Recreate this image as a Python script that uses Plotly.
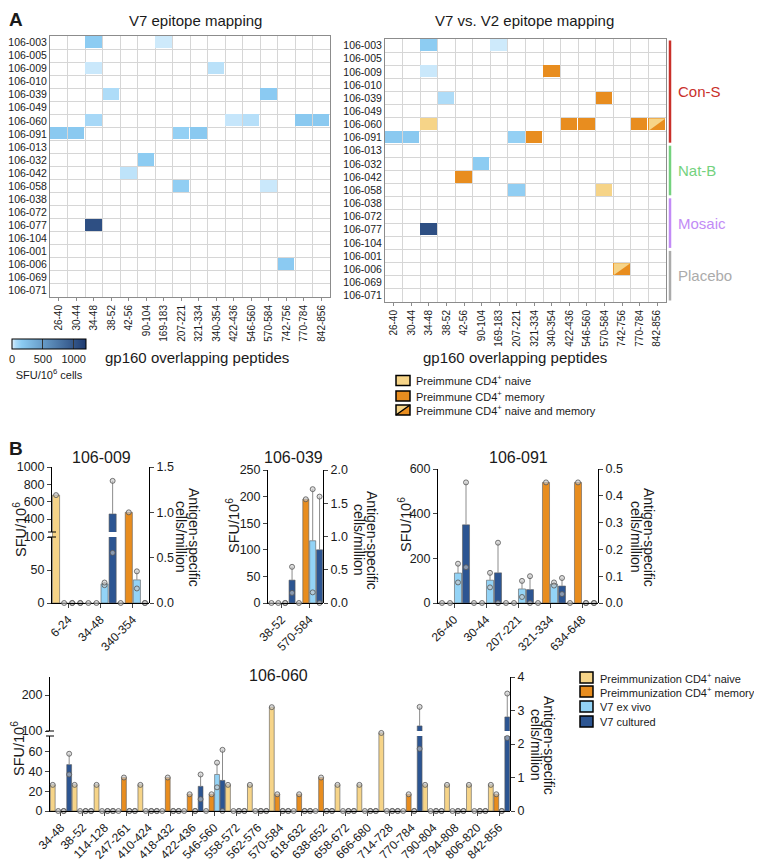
import plotly.graph_objects as go

W, H = 762, 863
OX, OY = 8, 8  # page body margin in the browser
FONT = "Arial, Liberation Sans, sans-serif"


def X(px):
    return (px - OX) / W


def Y(py):
    return 1 - (py - OY) / H


# ---------------- A: epitope maps ----------------
donors = ["106-003", "106-005", "106-009", "106-010", "106-039", "106-049", "106-060", "106-091",
          "106-013", "106-032", "106-042", "106-058", "106-038", "106-072", "106-077", "106-104",
          "106-001", "106-006", "106-069", "106-071"]
peptides = ["26-40", "30-44", "34-48", "38-52", "42-56", "90-104", "169-183", "207-221",
            "321-334", "340-354", "422-436", "546-560", "570-584", "742-756", "770-784", "842-856"]

# V7 responses, SFU/10^6 cells
v7_donor = ["106-003", "106-003", "106-009", "106-009", "106-039", "106-039", "106-060", "106-060",
            "106-060", "106-060", "106-060", "106-091", "106-091", "106-091", "106-091", "106-032",
            "106-042", "106-058", "106-058", "106-077", "106-006"]
v7_peptide = ["34-48", "169-183", "34-48", "340-354", "38-52", "570-584", "34-48", "422-436",
              "546-560", "770-784", "842-856", "26-40", "30-44", "207-221", "321-334", "90-104",
              "42-56", "207-221", "570-584", "34-48", "742-756"]
v7_sfu = [150, 20, 25, 45, 60, 160, 80, 30, 50, 170, 170, 170, 170, 130, 170, 150, 40, 140, 25, 1050, 160]

# preimmune CD4+ responses: 1 naive, 2 memory, 3 naive and memory
pre_donor = ["106-009", "106-039", "106-060", "106-060", "106-060", "106-060", "106-060",
             "106-091", "106-042", "106-058", "106-006"]
pre_peptide = ["340-354", "570-584", "34-48", "422-436", "546-560", "770-784", "842-856",
               "321-334", "42-56", "570-584", "742-756"]
pre_type = [2, 2, 1, 2, 2, 2, 3, 2, 2, 1, 3]

vaccine_groups = ["Con-S", "Nat-B", "Mosaic", "Placebo"]
group_size = [8, 4, 4, 4]
group_colors = ["#c9302a", "#74d27e", "#c28bf6", "#ababab"]

# ---------------- B: per-donor bars ----------------
p009_pep = ["6-24", "34-48", "340-354"]
p009_naive = [1.19, 0, 0]
p009_memory = [0, 0, 1.0]
p009_exvivo = [0, 29, 35]
p009_exvivo_pts = [[0, 0], [27, 31], [48, 22]]
p009_cult = [0, 458, 0]
p009_cult_pts = [[0, 0], [840, 76], [0, 0]]

p039_pep = ["38-52", "570-584"]
p039_naive = [0, 0]
p039_memory = [0, 1.56]
p039_exvivo = [0, 117]
p039_exvivo_pts = [[0, 0], [214, 20]]
p039_cult = [43, 100]
p039_cult_pts = [[68, 19], [200, 0]]

p091_pep = ["26-40", "30-44", "207-221", "321-334", "634-648"]
p091_naive = [0, 0, 0, 0, 0]
p091_memory = [0, 0, 0, 0.45, 0.45]
p091_exvivo = [134, 102, 63, 85, 0]
p091_exvivo_pts = [[176, 92], [135, 70], [99, 27], [92, 78], [0, 0]]
p091_cult = [350, 135, 60, 76, 0]
p091_cult_pts = [[540, 160], [270, 0], [120, 0], [112, 40], [0, 0]]

p060_pep = ["34-48", "38-52", "114-128", "247-261", "410-424", "418-432", "422-436", "546-560",
            "558-572", "562-576", "570-584", "618-632", "638-652", "658-672", "666-680", "714-728",
            "770-784", "790-804", "794-808", "806-820", "842-856"]
p060_naive = [0.78, 0.78, 0.78, 0, 0.78, 0, 0, 0, 0.78, 0.78, 3.1, 0, 0, 0.78, 0.78, 2.33,
              0, 0.78, 0.78, 0.78, 0.78]
p060_memory = [0, 0, 0, 1.0, 0, 1.0, 0.5, 0.5, 0, 0, 0.5, 0.5, 1.0, 0, 0, 0,
               0.5, 0, 0, 0, 0.5]
p060_exvivo = [0, 0, 0, 0, 0, 0, 0, 37, 0, 0, 0, 0, 0, 0, 0, 0, 0, 0, 0, 0, 0]
p060_exvivo_pts = [[0, 0]] * 7 + [[49, 24]] + [[0, 0]] * 13
p060_cult = [47, 0, 0, 0, 0, 0, 25, 31, 0, 0, 0, 0, 0, 0, 0, 0, 114, 0, 0, 0, 139]
p060_cult_pts = ([[58, 37]] + [[0, 0]] * 5 + [[37, 12], [62, 0]] + [[0, 0]] * 8
                 + [[167, 63]] + [[0, 0]] * 3 + [[204, 74]])

NAIVE, MEMORY, EXVIVO, CULT = "#f6d488", "#e88d1f", "#93d3f6", "#2c5592"
DOT = dict(symbol="circle", size=5, color="rgba(200,200,200,0.6)", line=dict(color="#555", width=0.8))

fig = go.Figure()

# ---------- heatmaps ----------
z_v7 = [[None] * len(peptides) for _ in donors]
for d, p, v in zip(v7_donor, v7_peptide, v7_sfu):
    z_v7[donors.index(d)][peptides.index(p)] = v
z_pre = [[None] * len(peptides) for _ in donors]
for d, p, t in zip(pre_donor, pre_peptide, pre_type):
    z_pre[donors.index(d)][peptides.index(p)] = t
z_v7_right = [[None if z_pre[r][c] is not None else z_v7[r][c] for c in range(len(peptides))]
              for r in range(len(donors))]

blue_scale = [[0, "#dff1fc"], [0.02, "#cbe8fb"], [0.05, "#aedcf8"], [0.13, "#8bcbf2"], [1, "#1e3a70"]]
pre_scale = [[0, NAIVE], [0.25, NAIVE], [0.25, MEMORY], [1, MEMORY]]
hm = dict(x=list(range(len(peptides))), y=list(range(len(donors))), xgap=1, ygap=1, hoverinfo="skip")

fig.add_trace(go.Heatmap(
    z=z_v7, colorscale=blue_scale, zmin=0, zmax=1200, xaxis="x", yaxis="y",
    colorbar=dict(orientation="h", x=X(12), xanchor="left", y=Y(339), yanchor="top",
                  len=74, lenmode="pixels", thickness=10, xpad=0, ypad=0,
                  tickvals=[0, 500, 1000], ticks="inside", ticklen=10, tickcolor="#333",
                  outlinecolor="black", outlinewidth=1, tickfont=dict(size=11),
                  title=dict(text="SFU/10<sup>6</sup> cells", side="bottom", font=dict(size=11))),
    **hm))
fig.add_trace(go.Heatmap(z=z_v7_right, colorscale=blue_scale, zmin=0, zmax=1200, showscale=False,
                         xaxis="x2", yaxis="y2", **hm))
fig.add_trace(go.Heatmap(z=z_pre, colorscale=pre_scale, zmin=1, zmax=3, showscale=False,
                         xaxis="x2", yaxis="y2", **hm))
for d, p, t in zip(pre_donor, pre_peptide, pre_type):
    if t == 3:
        r, c = donors.index(d), peptides.index(p)
        fig.add_trace(go.Scatter(x=[c - 0.47, c + 0.47, c - 0.47, c - 0.47],
                                 y=[r - 0.45, r - 0.45, r + 0.45, r - 0.45],
                                 fill="toself", fillcolor=NAIVE, mode="lines", line=dict(width=0),
                                 xaxis="x2", yaxis="y2", showlegend=False, hoverinfo="skip"))


# ---------- bar panels ----------
def panel(xa, ylo, yhi, yr, naive, memory, exvivo, exvivo_pts, cult, cult_pts, lo_max=None):
    idx = range(len(naive))
    for vals, color, off in ((naive, NAIVE, -0.375), (memory, MEMORY, -0.125)):
        xs = [i + off for i in idx]
        fig.add_trace(go.Bar(x=xs, y=vals, width=0.22, xaxis=xa, yaxis=yr, showlegend=False,
                             marker=dict(color=color, line=dict(color="#5a5a5a", width=0.6))))
        fig.add_trace(go.Scatter(x=xs, y=vals, mode="markers", marker=DOT, cliponaxis=False,
                                 xaxis=xa, yaxis=yr, showlegend=False))
    for vals, pts, color, off in ((exvivo, exvivo_pts, EXVIVO, 0.125), (cult, cult_pts, CULT, 0.375)):
        xs = [i + off for i in idx]
        err = [max(0, max(p) - v) for v, p in zip(vals, pts)]
        axes = [(ylo, lambda v: lo_max is None or v <= lo_max)]
        if yhi:
            axes.append((yhi, lambda v: v > lo_max))
        for ya, keep in axes:
            fig.add_trace(go.Bar(
                x=xs, y=vals, width=0.22, xaxis=xa, yaxis=ya, showlegend=False,
                marker=dict(color=color, line=dict(color="#5a5a5a", width=0.6)),
                error_y=dict(type="data", symmetric=False,
                             array=[e if keep(v) else 0 for e, v in zip(err, vals)],
                             arrayminus=[0] * len(vals), width=0, color="#8c8c8c", thickness=1)))
            dx, dy = [], []
            for x, p in zip(xs, pts):
                for val in p:
                    if keep(val):
                        dx.append(x)
                        dy.append(val)
            fig.add_trace(go.Scatter(x=dx, y=dy, mode="markers", marker=DOT, cliponaxis=False,
                                     xaxis=xa, yaxis=ya, showlegend=False))


panel("x3", "y3", "y4", "y5", p009_naive, p009_memory, p009_exvivo, p009_exvivo_pts,
      p009_cult, p009_cult_pts, lo_max=100)
panel("x4", "y6", None, "y7", p039_naive, p039_memory, p039_exvivo, p039_exvivo_pts,
      p039_cult, p039_cult_pts)
panel("x5", "y8", None, "y9", p091_naive, p091_memory, p091_exvivo, p091_exvivo_pts,
      p091_cult, p091_cult_pts)
panel("x6", "y10", "y11", "y12", p060_naive, p060_memory, p060_exvivo, p060_exvivo_pts,
      p060_cult, p060_cult_pts, lo_max=76)

# ---------- axes ----------
def hm_x(domain, anchor):
    return dict(domain=domain, anchor=anchor, range=[-0.5, len(peptides) - 0.5],
                tickvals=list(range(len(peptides))), ticktext=peptides, tickangle=-90,
                tickfont=dict(size=10), showline=True, mirror=True, linecolor="#8c8c8c",
                ticks="outside", ticklen=3, tickcolor="#8c8c8c", showgrid=False, zeroline=False,
                automargin=False,
                minor=dict(tickmode="linear", tick0=0.5, dtick=1, showgrid=True,
                           gridcolor="#d6d6d6", gridwidth=1))


def hm_y(domain, anchor):
    return dict(domain=domain, anchor=anchor, range=[len(donors) - 0.5, -0.5],
                tickvals=list(range(len(donors))), ticktext=donors, tickfont=dict(size=10.5),
                showline=True, mirror=True, linecolor="#8c8c8c", ticks="",
                showgrid=False, zeroline=False, automargin=False,
                minor=dict(tickmode="linear", tick0=0.5, dtick=1, showgrid=True,
                           gridcolor="#d6d6d6", gridwidth=1))


def bx(domain, peps, anchor):
    return dict(domain=domain, anchor=anchor, range=[-0.5, len(peps) - 0.5],
                tickvals=list(range(len(peps))), ticktext=peps, tickangle=-45,
                tickfont=dict(size=12), showline=True, linecolor="black", ticks="outside",
                ticklen=4, showgrid=False, zeroline=False, automargin=False)


def by(domain, rng, tickvals, anchor, side="left", fmt=None):
    d = dict(domain=domain, anchor=anchor, range=rng, tickvals=tickvals, side=side,
             tickfont=dict(size=12.5), showline=True, linecolor="black", ticks="outside",
             ticklen=4, showgrid=False, zeroline=False, automargin=False)
    if fmt:
        d["tickformat"] = fmt
    return d


fig.update_layout(
    xaxis=hm_x([X(50), X(330)], "y"), yaxis=hm_y([Y(297), Y(36)], "x"),
    xaxis2=hm_x([X(385), X(666)], "y2"), yaxis2=hm_y([Y(302), Y(39)], "x2"),
    xaxis3=bx([X(52), X(149)], p009_pep, "y3"),
    yaxis3=by([Y(603), Y(537)], [0, 100], [0, 50, 100], "x3"),
    yaxis4=by([Y(532), Y(467)], [250, 1000], [400, 600, 800, 1000], "x3"),
    yaxis5=by([Y(603), Y(467)], [0, 1.5], [0, 0.5, 1.0, 1.5], "x3", "right", ".1f"),
    xaxis4=bx([X(268), X(323)], p039_pep, "y6"),
    yaxis6=by([Y(603), Y(470)], [0, 250], [0, 50, 100, 150, 200, 250], "x4"),
    yaxis7=by([Y(603), Y(470)], [0, 2], [0, 0.5, 1.0, 1.5, 2.0], "x4", "right", ".1f"),
    xaxis5=bx([X(438), X(598)], p091_pep, "y8"),
    yaxis8=by([Y(603), Y(469)], [0, 600], [0, 200, 400, 600], "x5"),
    yaxis9=by([Y(603), Y(469)], [0, 0.5], [0, 0.1, 0.2, 0.3, 0.4, 0.5], "x5", "right", ".1f"),
    xaxis6=bx([X(50), X(510)], p060_pep, "y10"),
    yaxis10=by([Y(811), Y(736)], [0, 76], [0, 20, 40, 60], "x6"),
    yaxis11=by([Y(731), Y(677)], [100, 250], [100, 200], "x6"),
    yaxis12=by([Y(811), Y(677)], [0, 4], [0, 1, 2, 3, 4], "x6", "right"),
)

# ---------- text ----------
ann = []


def text(x, y, s, size=13, angle=0, anchor="center", color="#1a1a1a", bold=False):
    if bold:
        s = "<b>" + s + "</b>"
    ann.append(dict(x=X(x), y=Y(y), xref="paper", yref="paper", text=s, showarrow=False,
                    textangle=angle, xanchor=anchor, yanchor="middle",
                    font=dict(size=size, color=color, family=FONT)))


text(16, 20, "A", 19, bold=True)
text(16, 448, "B", 19, bold=True)
text(195, 21, "V7 epitope mapping", 15)
text(524, 21, "V7 vs. V2 epitope mapping", 15)
text(197, 357, "gp160 overlapping peptides", 15)
text(515, 357, "gp160 overlapping peptides", 15)

# vaccine group brackets
row_h = (302 - 39) / len(donors)
start = 0
for g, n, col in zip(vaccine_groups, group_size, group_colors):
    y0 = 39 + start * row_h + 1.5
    y1 = 39 + (start + n) * row_h - 1.5
    fig.add_shape(type="line", xref="paper", yref="paper", x0=X(670), x1=X(670), y0=Y(y0), y1=Y(y1),
                  line=dict(color=col, width=2.5))
    text(676, (y0 + y1) / 2, g, 15, anchor="left", color=col)
    start += n

# heatmap legend
pre_labels = ["Preimmune CD4<sup>+</sup> naive", "Preimmune CD4<sup>+</sup> memory",
              "Preimmune CD4<sup>+</sup> naive and memory"]
for k, (lab, yc) in enumerate(zip(pre_labels, [380.5, 396, 410])):
    x0, x1, y0, y1 = X(396), X(410), Y(yc + 5), Y(yc - 5)
    fill = NAIVE if k == 0 else MEMORY
    fig.add_shape(type="rect", xref="paper", yref="paper", x0=x0, x1=x1, y0=y0, y1=y1,
                  fillcolor=fill, line=dict(width=0))
    if k == 2:
        fig.add_shape(type="path", xref="paper", yref="paper",
                      path=f"M {x0},{y0} L {x0},{y1} L {x1},{y1} Z", fillcolor=NAIVE,
                      line=dict(width=0))
        fig.add_shape(type="line", xref="paper", yref="paper", x0=x0, y0=y0, x1=x1, y1=y1,
                      line=dict(color="black", width=1.5))
    fig.add_shape(type="rect", xref="paper", yref="paper", x0=x0, x1=x1, y0=y0, y1=y1,
                  line=dict(color="black", width=1.5))
    text(414, yc, lab, 11, anchor="left")

# bar panel titles / axis titles
for x, y, s in ((101, 457, "106-009"), (293, 457, "106-039"), (518, 457, "106-091"), (278, 675, "106-060")):
    text(x, y, s, 16)
for x, y in ((20, 530), (233, 525), (405, 525), (18, 749)):
    text(x, y, "SFU/10<sup>6</sup>", 14.5, angle=-90)
for x, y in ((188, 537), (366, 540), (643, 537), (543, 745)):
    text(x + 6, y, "Antigen-specific", 14, angle=90)
    text(x - 7, y, "cells/million", 14, angle=90)

# axis break marks
for ax_x, lo_top, hi_bot in ((52, 537, 532), (50, 736, 731)):
    for yy in (lo_top, hi_bot):
        fig.add_shape(type="line", xref="paper", yref="paper", x0=X(ax_x - 4), x1=X(ax_x + 4),
                      y0=Y(yy), y1=Y(yy), line=dict(color="black", width=1))

# bar legend
bar_labels = ["Preimmunization CD4<sup>+</sup> naive", "Preimmunization CD4<sup>+</sup> memory",
              "V7 ex vivo", "V7 cultured"]
for lab, col, yc in zip(bar_labels, [NAIVE, MEMORY, EXVIVO, CULT], [677.5, 691.5, 706.5, 721.5]):
    fig.add_shape(type="rect", xref="paper", yref="paper", x0=X(580), x1=X(593),
                  y0=Y(yc + 5.5), y1=Y(yc - 5.5), fillcolor=col, line=dict(color="black", width=1.5))
    text(598, yc, lab, 11, anchor="left")

fig.update_layout(
    width=W, height=H, margin=dict(l=0, r=0, t=0, b=0, autoexpand=False),
    paper_bgcolor="white", plot_bgcolor="rgba(0,0,0,0)",
    font=dict(family=FONT, size=12, color="#1a1a1a"),
    barmode="overlay", showlegend=False, annotations=ann,
)

fig.write_html("out.html")
